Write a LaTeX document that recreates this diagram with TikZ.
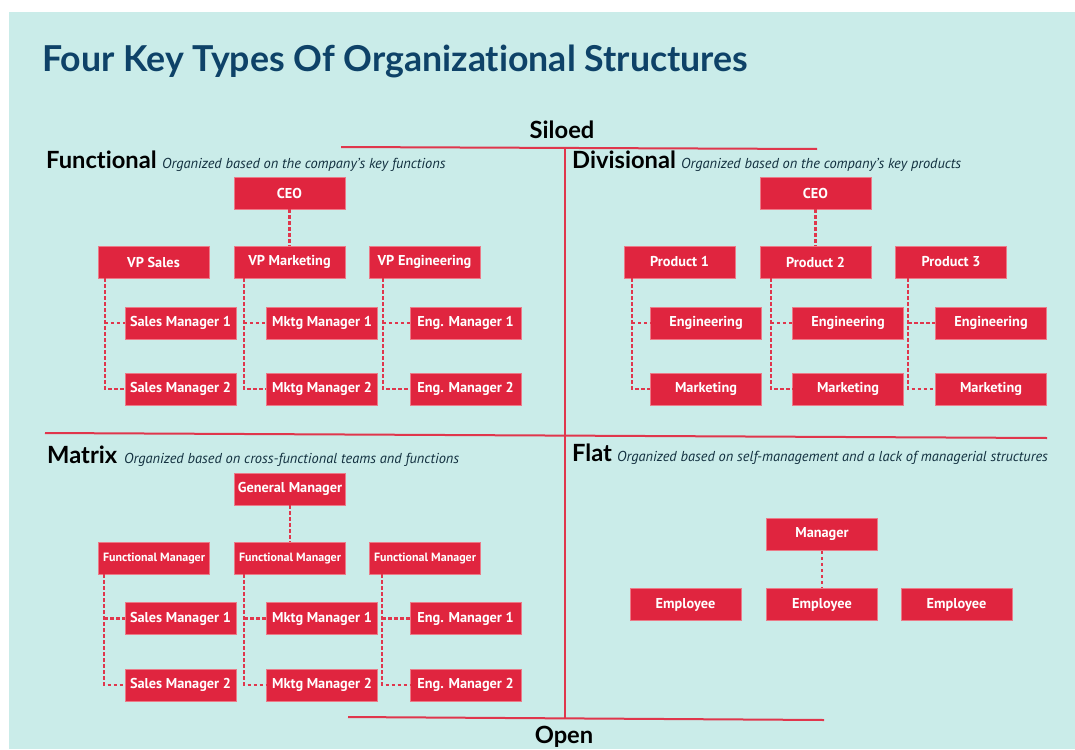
\documentclass[tikz,border=0pt]{standalone}
\usepackage{fontspec}
\setmainfont{PT Sans}
\newfontfamily\headfont[Ligatures={NoCommon,NoRare}]{Lato}
\definecolor{bgteal}{HTML}{CAECE9}
\definecolor{boxred}{HTML}{E0253F}
\definecolor{boxedge}{HTML}{EC7A88}
\definecolor{linered}{HTML}{E0364C}
\definecolor{titleblue}{HTML}{0E4268}
\definecolor{subnavy}{HTML}{12303F}
\tikzset{
  orgbox/.style={fill=boxred, draw=boxedge, line width=0.5pt, minimum width=111pt, minimum height=32pt, inner sep=0pt, text=white, font=\bfseries\fontsize{14.3}{16}\selectfont},
  smallbox/.style={orgbox, font=\bfseries\fontsize{12}{14}\selectfont},
  conn/.style={draw=linered, line width=2.2pt, dash pattern=on 3.5pt off 2.5pt},
  axisline/.style={draw=linered, line width=2pt},
  headtext/.style={font=\headfont\bfseries\fontsize{23.7}{25}\selectfont, text=black, inner sep=0pt},
  subtext/.style={font=\itshape\fontsize{14.4}{16}\selectfont, text=subnavy, inner sep=0pt},
}
\begin{document}
\begin{tikzpicture}[x=1pt, y=-1pt]
\useasboundingbox (0,0) rectangle (1075,749);
\fill[white] (0,0) rectangle (1075,749);
\fill[bgteal] (9,12) rectangle (1075,749);

% title
\node[anchor=base west, inner sep=0pt, font=\headfont\bfseries\fontsize{35.7}{38}\selectfont, text=titleblue] (title) at (42,72) {Four Key Types Of Organizational Structures};

% axis lines and labels
\node[anchor=base, headtext] (siloed) at (562,138) {Siloed};
\node[anchor=base, headtext] (open) at (564,743) {Open};
\coordinate (sl-a) at (341,147);
\coordinate (sl-b) at (817,149);
\draw[axisline] (sl-a) -- (sl-b);
\coordinate (v-a) at (564.5,148);
\coordinate (v-b) at (564.5,718);
\draw[axisline] (v-a) -- (v-b);
\coordinate (m-a) at (45,433);
\coordinate (m-b) at (1047,438);
\draw[axisline] (m-a) -- (m-b);
\coordinate (b-a) at (348,717);
\coordinate (b-b) at (824,720);
\draw[axisline] (b-a) -- (b-b);

% headings
\node[anchor=base west, headtext] (h-func) at (46,168) {Functional};
\node[anchor=base west, subtext] (s-func) at (162,168) {Organized based on the company's key functions};
\node[anchor=base west, headtext] (h-div) at (572,168) {Divisional};
\node[anchor=base west, subtext] (s-div) at (681,168) {Organized based on the company's key products};
\node[anchor=base west, headtext] (h-mat) at (47,463) {Matrix};
\node[anchor=base west, subtext] (s-mat) at (124,463) {Organized based on cross-functional teams and functions};
\node[anchor=base west, headtext] (h-flat) at (572,461) {Flat};
\node[anchor=base west, subtext] (s-flat) at (617,461) {Organized based on self-management and a lack of managerial structures};

% ---------- Functional ----------
\node[orgbox] (f-ceo) at (289.5,193) {CEO};
\node[orgbox] (f-vps) at (153.5,262) {VP Sales};
\node[orgbox] (f-vpm) at (289.5,262) {VP Marketing};
\node[orgbox] (f-vpe) at (424.5,262) {VP Engineering};
\node[orgbox] (f-sm1) at (180.5,323) {Sales Manager 1};
\node[orgbox] (f-sm2) at (180.5,389) {Sales Manager 2};
\node[orgbox] (f-mm1) at (322,323) {Mktg Manager 1};
\node[orgbox] (f-mm2) at (322,389) {Mktg Manager 2};
\node[orgbox] (f-em1) at (465.5,323) {Eng. Manager 1};
\node[orgbox] (f-em2) at (465.5,389) {Eng. Manager 2};
\draw[conn] (f-ceo) -- (f-vpm);
\coordinate (f-ts) at ([xshift=7pt]f-vps.south west);
\coordinate (f-tm) at ([xshift=10pt]f-vpm.south west);
\coordinate (f-te) at ([xshift=14pt]f-vpe.south west);
\draw[conn] (f-ts) |- (f-sm2);
\draw[conn] (f-ts |- f-sm1) -- (f-sm1);
\draw[conn] (f-tm) |- (f-mm2);
\draw[conn] (f-tm |- f-mm1) -- (f-mm1);
\draw[conn] (f-te) |- (f-em2);
\draw[conn] (f-te |- f-em1) -- (f-em1);

% ---------- Divisional ----------
\node[orgbox] (d-ceo) at (815.5,193) {CEO};
\node[orgbox] (d-p1) at (679.5,262) {Product 1};
\node[orgbox] (d-p2) at (815.5,262) {Product 2};
\node[orgbox] (d-p3) at (951,262) {Product 3};
\node[orgbox] (d-e1) at (706,323) {Engineering};
\node[orgbox] (d-m1) at (706,389) {Marketing};
\node[orgbox] (d-e2) at (848,323) {Engineering};
\node[orgbox] (d-m2) at (848,389) {Marketing};
\node[orgbox] (d-e3) at (991,323) {Engineering};
\node[orgbox] (d-m3) at (991,389) {Marketing};
\draw[conn] (d-ceo) -- (d-p2);
\coordinate (d-t1) at ([xshift=8pt]d-p1.south west);
\coordinate (d-t2) at ([xshift=11pt]d-p2.south west);
\coordinate (d-t3) at ([xshift=13pt]d-p3.south west);
\draw[conn] (d-t1) |- (d-m1);
\draw[conn] (d-t1 |- d-e1) -- (d-e1);
\draw[conn] (d-t2) |- (d-m2);
\draw[conn] (d-t2 |- d-e2) -- (d-e2);
\draw[conn] (d-t3) |- (d-m3);
\draw[conn] (d-t3 |- d-e3) -- (d-e3);

% ---------- Matrix ----------
\node[orgbox] (m-gm) at (290,489) {General Manager};
\node[smallbox] (m-f1) at (154,558) {Functional Manager};
\node[smallbox] (m-f2) at (290,558) {Functional Manager};
\node[smallbox] (m-f3) at (425,558) {Functional Manager};
\node[orgbox] (m-s1) at (180.5,618.5) {Sales Manager 1};
\node[orgbox] (m-s2) at (180.5,685) {Sales Manager 2};
\node[orgbox] (m-k1) at (322,618.5) {Mktg Manager 1};
\node[orgbox] (m-k2) at (322,685) {Mktg Manager 2};
\node[orgbox] (m-e1) at (465.5,618.5) {Eng. Manager 1};
\node[orgbox] (m-e2) at (465.5,685) {Eng. Manager 2};
\draw[conn] (m-gm) -- (m-f2);
\coordinate (m-t1) at ([xshift=6pt]m-f1.south west);
\coordinate (m-t2) at ([xshift=10pt]m-f2.south west);
\coordinate (m-t3) at ([xshift=13pt]m-f3.south west);
\draw[conn] (m-t1) |- (m-s2);
\draw[conn] (m-t1 |- m-s1) -- (m-s1);
\draw[conn] (m-t2) |- (m-k2);
\draw[conn] (m-t2 |- m-k1) -- (m-k1);
\draw[conn] (m-t3) |- (m-e2);
\draw[conn] (m-t3 |- m-e1) -- (m-e1);

% ---------- Flat ----------
\node[orgbox] (fl-mgr) at (822,534.5) {Manager};
\node[orgbox] (fl-e1) at (685.5,604.5) {Employee};
\node[orgbox] (fl-e2) at (822,604.5) {Employee};
\node[orgbox] (fl-e3) at (956.5,604.5) {Employee};
\draw[conn] (fl-mgr) -- (fl-e2);
\end{tikzpicture}
\end{document}
